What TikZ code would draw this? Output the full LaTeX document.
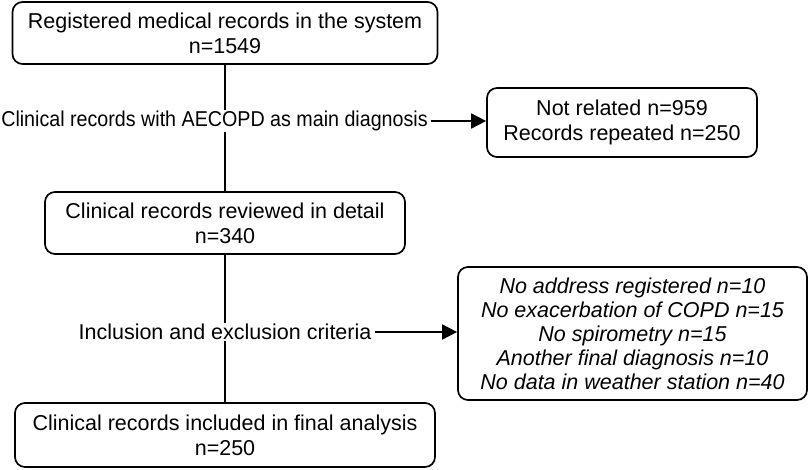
\documentclass[tikz,border=0pt]{standalone}
\usepackage{fontspec}
\setmainfont{Liberation Sans}
\usetikzlibrary{arrows.meta}
\tikzset{
    recbox/.style = {
        draw,
        rounded corners = 10pt,
        line width = 1.7pt,
        align = center,
        inner sep = 0pt
    },
    steplabel/.style = {
        fill = white,
        inner xsep = 3pt,
        inner ysep = 1pt
    },
    flow/.style = {line width = 1.7pt},
    excluded/.style = {
        line width = 1.7pt,
        -{Triangle[length = 15pt, width = 15pt]}
    }
}

\begin{document}
\begin{tikzpicture}[x = 1pt, y = -1pt, font = \fontsize{21.5}{25}\selectfont]
    \useasboundingbox (0, 0) rectangle (810, 469);

    % Main boxes
    \node [recbox, minimum width = 425pt, minimum height = 62pt]
        (registered) at (225, 33)
        {Registered medical records in the system\\n=1549};
    \node [recbox, minimum width = 360pt, minimum height = 62pt]
        (reviewed) at (225, 223)
        {Clinical records reviewed in detail\\n=340};
    \node [recbox, minimum width = 420pt, minimum height = 64pt]
        (included) at (225, 435)
        {Clinical records included in final analysis\\n=250};

    % Side boxes
    \node [recbox, minimum width = 270pt, minimum height = 69pt]
        (notrelated) at (622, 122.5)
        {Not related n=959\\Records repeated n=250};
    \node [recbox, minimum width = 349pt, minimum height = 133pt,
           font = \fontsize{21.5}{24}\selectfont\itshape]
        (criteria) at (632.5, 333.5)
        {No address registered n=10\\No exacerbation of COPD n=15\\No spirometry n=15\\Another final diagnosis n=10\\No data in weather station n=40};

    % Lines
    \draw [flow] (registered) -- (reviewed);
    \draw [flow] (reviewed) -- (included);

    % Labels
    \node [steplabel] (aecopd) at (214.5, 121)
        {\scalebox{0.915}[1]{Clinical records with AECOPD as main diagnosis}};
    \node [steplabel] (inclusion) at (225, 332)
        {Inclusion and exclusion criteria};

    % Arrows
    \draw [excluded] (aecopd.east) -- (aecopd.east -| notrelated.west);
    \draw [excluded] (inclusion.east) -- (inclusion.east -| criteria.west);

\end{tikzpicture}
\end{document}
